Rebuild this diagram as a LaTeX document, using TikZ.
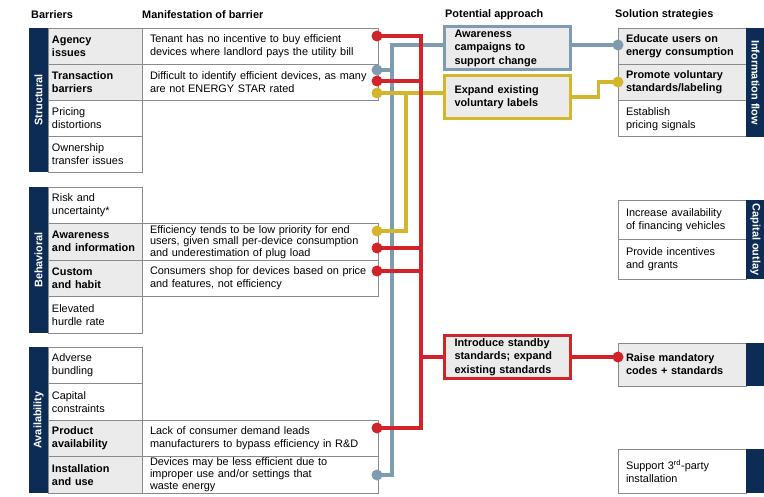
\documentclass[tikz,border=0pt]{standalone}
\usepackage{fontspec}
\setmainfont{Liberation Sans}
\usetikzlibrary{positioning, calc}

\definecolor{navy}{HTML}{0C2C56}
\definecolor{cred}{HTML}{D2232A}
\definecolor{cblue}{HTML}{7D9CB0}
\definecolor{cyell}{HTML}{D4B62C}
\definecolor{cfill}{HTML}{EBEBEB}
\definecolor{cline}{HTML}{8A8A8A}

\begin{document}
\begin{tikzpicture}[x=1pt,y=-1pt,font=\fontsize{10.9}{13}\selectfont,
  cell/.style={draw=cline,line width=0.9pt,outer sep=0pt,inner xsep=4pt,inner ysep=1pt,
    minimum width=94pt,minimum height=36pt,text width=86pt,align=left},
  key cell/.style={cell,fill=cfill,font=\fontsize{10.9}{13}\selectfont\bfseries},
  mani cell/.style={cell,inner xsep=8pt,minimum width=236pt,text width=220pt},
  sol cell/.style={cell,inner xsep=8pt,minimum width=128pt,text width=112pt},
  sol key/.style={sol cell,fill=cfill,font=\fontsize{10.9}{13}\selectfont\bfseries},
  approach/.style={fill=cfill,line width=3.4pt,outer sep=0pt,minimum width=126pt,minimum height=43pt,
    inner xsep=10pt,inner ysep=1pt,text width=106pt,align=left,font=\fontsize{10.9}{13.5}\selectfont\bfseries},
  bar text/.style={text=white,font=\fontsize{10.9}{13}\selectfont\bfseries},
  head/.style={anchor=west,inner sep=0pt,font=\fontsize{10.9}{13}\selectfont\bfseries},
  wire/.style={line width=3.4pt},
  dot node/.style={circle,inner sep=0pt,minimum size=11pt}]
  \useasboundingbox (0,0) rectangle (764,497);

  % headers
  \node[head] (h1) at (31,15) {Barriers};
  \node[head] (h2) at (142,15) {Manifestation of barrier};
  \node[head] (h3) at (445,15) {Potential approach};
  \node[head] (h4) at (615,15) {Solution strategies};

  % structural
  \node[key cell,anchor=north west] (s1) at (48,28) {Agency\\issues};
  \node[key cell,below=0pt of s1] (s2) {Transaction\\barriers};
  \node[cell,below=0pt of s2] (s3) {Pricing\\distortions};
  \node[cell,below=0pt of s3] (s4) {Ownership\\transfer issues};
  \node[mani cell,right=0pt of s1] (m1) {Tenant has no incentive to buy efficient\\devices where landlord pays the utility bill};
  \node[mani cell,right=0pt of s2] (m2) {Difficult to identify efficient devices, as many\\are not ENERGY STAR rated};
  \fill[navy] ([xshift=-19pt]s1.north west) rectangle (s4.south west);
  \node[bar text,rotate=90] at ($([xshift=-19pt]s1.north west)!0.5!(s4.south west)$) {Structural};

  % behavioral
  \node[cell,anchor=north west,minimum height=36.5pt] (v1) at (48,187) {Risk and\\uncertainty*};
  \node[key cell,below=0pt of v1,minimum height=36.5pt] (v2) {Awareness\\and information};
  \node[key cell,below=0pt of v2,minimum height=36.5pt] (v3) {Custom\\and habit};
  \node[cell,below=0pt of v3,minimum height=36.5pt] (v4) {Elevated\\hurdle rate};
  \node[mani cell,right=0pt of v2,minimum height=36.5pt,inner ysep=0pt,font=\fontsize{10.9}{11.5}\selectfont] (m3)
    {Efficiency tends to be low priority for end\\users, given small per-device consumption\\and underestimation of plug load};
  \node[mani cell,right=0pt of v3,minimum height=36.5pt] (m4) {Consumers shop for devices based on price\\and features, not efficiency};
  \fill[navy] ([xshift=-19pt]v1.north west) rectangle (v4.south west);
  \node[bar text,rotate=90] at ($([xshift=-19pt]v1.north west)!0.5!(v4.south west)$) {Behavioral};

  % availability
  \node[cell,anchor=north west,minimum height=36.5pt] (a1) at (48,347) {Adverse\\bundling};
  \node[cell,below=0pt of a1,minimum height=36.5pt] (a2) {Capital\\constraints};
  \node[key cell,below=0pt of a2,minimum height=36.5pt] (a3) {Product\\availability};
  \node[key cell,below=0pt of a3,minimum height=36.5pt] (a4) {Installation\\and use};
  \node[mani cell,right=0pt of a3,minimum height=36.5pt] (m5) {Lack of consumer demand leads\\manufacturers to bypass efficiency in R\&D};
  \node[mani cell,right=0pt of a4,minimum height=36.5pt,inner ysep=0pt,font=\fontsize{10.9}{12.3}\selectfont] (m6)
    {Devices may be less efficient due to\\improper use and/or settings that\\waste energy};
  \fill[navy] ([xshift=-19pt]a1.north west) rectangle (a4.south west);
  \node[bar text,rotate=90] at ($([xshift=-19pt]a1.north west)!0.5!(a4.south west)$) {Availability};

  % potential approach
  \node[approach,draw=cblue] (aware) at (507.5,48) {Awareness\\campaigns to\\support change};
  \node[approach,draw=cyell] (expand) at (507.5,97) {Expand existing\\voluntary labels};
  \node[approach,draw=cred] (standby) at (507.5,357) {Introduce standby\\standards; expand\\existing standards};

  % solution strategies
  \node[sol key,anchor=north west,minimum height=36.3pt] (i1) at (618,28) {Educate users on\\energy consumption};
  \node[sol key,below=0pt of i1,minimum height=36.3pt] (i2) {Promote voluntary\\standards/labeling};
  \node[sol cell,below=0pt of i2,minimum height=36.3pt] (i3) {Establish\\pricing signals};
  \fill[navy] (i1.north east) rectangle ([xshift=19pt]i3.south east);
  \node[bar text,rotate=-90] at ($(i1.north east)!0.5!([xshift=19pt]i3.south east)$) {Information flow};

  \node[sol cell,anchor=north west,minimum height=39.5pt] (c1) at (618,200) {Increase availability\\of financing vehicles};
  \node[sol cell,below=0pt of c1,minimum height=39.5pt] (c2) {Provide incentives\\and grants};
  \fill[navy] (c1.north east) rectangle ([xshift=19pt]c2.south east);
  \node[bar text,rotate=-90] at ($(c1.north east)!0.5!([xshift=19pt]c2.south east)$) {Capital outlay};

  \node[sol key,anchor=north west,minimum height=43pt] (k1) at (618,343) {Raise mandatory\\codes + standards};
  \fill[navy] (k1.north east) rectangle ([xshift=19pt]k1.south east);
  \node[sol cell,anchor=north west,minimum height=44pt] (t1) at (618,449) {Support 3\textsuperscript{rd}-party\\installation};
  \fill[navy] (t1.north east) rectangle ([xshift=19pt]t1.south east);

  % dots
  \node[dot node] (r1) at (377,36) {};
  \node[dot node] (b1) at (377,70) {};
  \node[dot node] (r2) at (377,81) {};
  \node[dot node] (y1) at (377,93) {};
  \node[dot node] (y2) at (377,231) {};
  \node[dot node] (r3) at (377,248) {};
  \node[dot node] (r4) at (377,271) {};
  \node[dot node] (r5) at (377,428) {};
  \node[dot node] (b2) at (377,475) {};
  \node[dot node] (e1) at (618,45) {};
  \node[dot node] (p1) at (618,82) {};
  \node[dot node] (q1) at (618,357) {};
  \coordinate (btop) at (392,45);
  \coordinate (yjoin) at (406,93);
  \coordinate (rtop) at (421,36);

  % connectors
  \draw[wire,cblue] (b2.center) -| (btop) -- (btop -| aware.west);
  \draw[wire,cblue] (b1.center) -- (b1 -| btop);
  \draw[wire,cblue] (aware.east |- e1) -- (e1.center);
  \draw[wire,cyell] (y1.center) -- (y1 -| expand.west);
  \draw[wire,cyell] (y2.center) -| (yjoin);
  \draw[wire,cyell] (expand.east) -- ++(28,0) |- (p1.center);
  \draw[wire,cred] (r1.center) -- (rtop) |- (r5.center);
  \foreach \d in {r2,r3,r4}
    \draw[wire,cred] (\d.center) -- (\d -| rtop);
  \draw[wire,cred] (standby.west -| rtop) -- (standby.west);
  \draw[wire,cred] (standby.east) -- (q1.center);

  % dots on top
  \foreach \d/\c in {r1/cred,b1/cblue,r2/cred,y1/cyell,y2/cyell,r3/cred,r4/cred,r5/cred,b2/cblue,e1/cblue,p1/cyell,q1/cred}
    \fill[\c] (\d) circle (5.5pt);
\end{tikzpicture}
\end{document}
